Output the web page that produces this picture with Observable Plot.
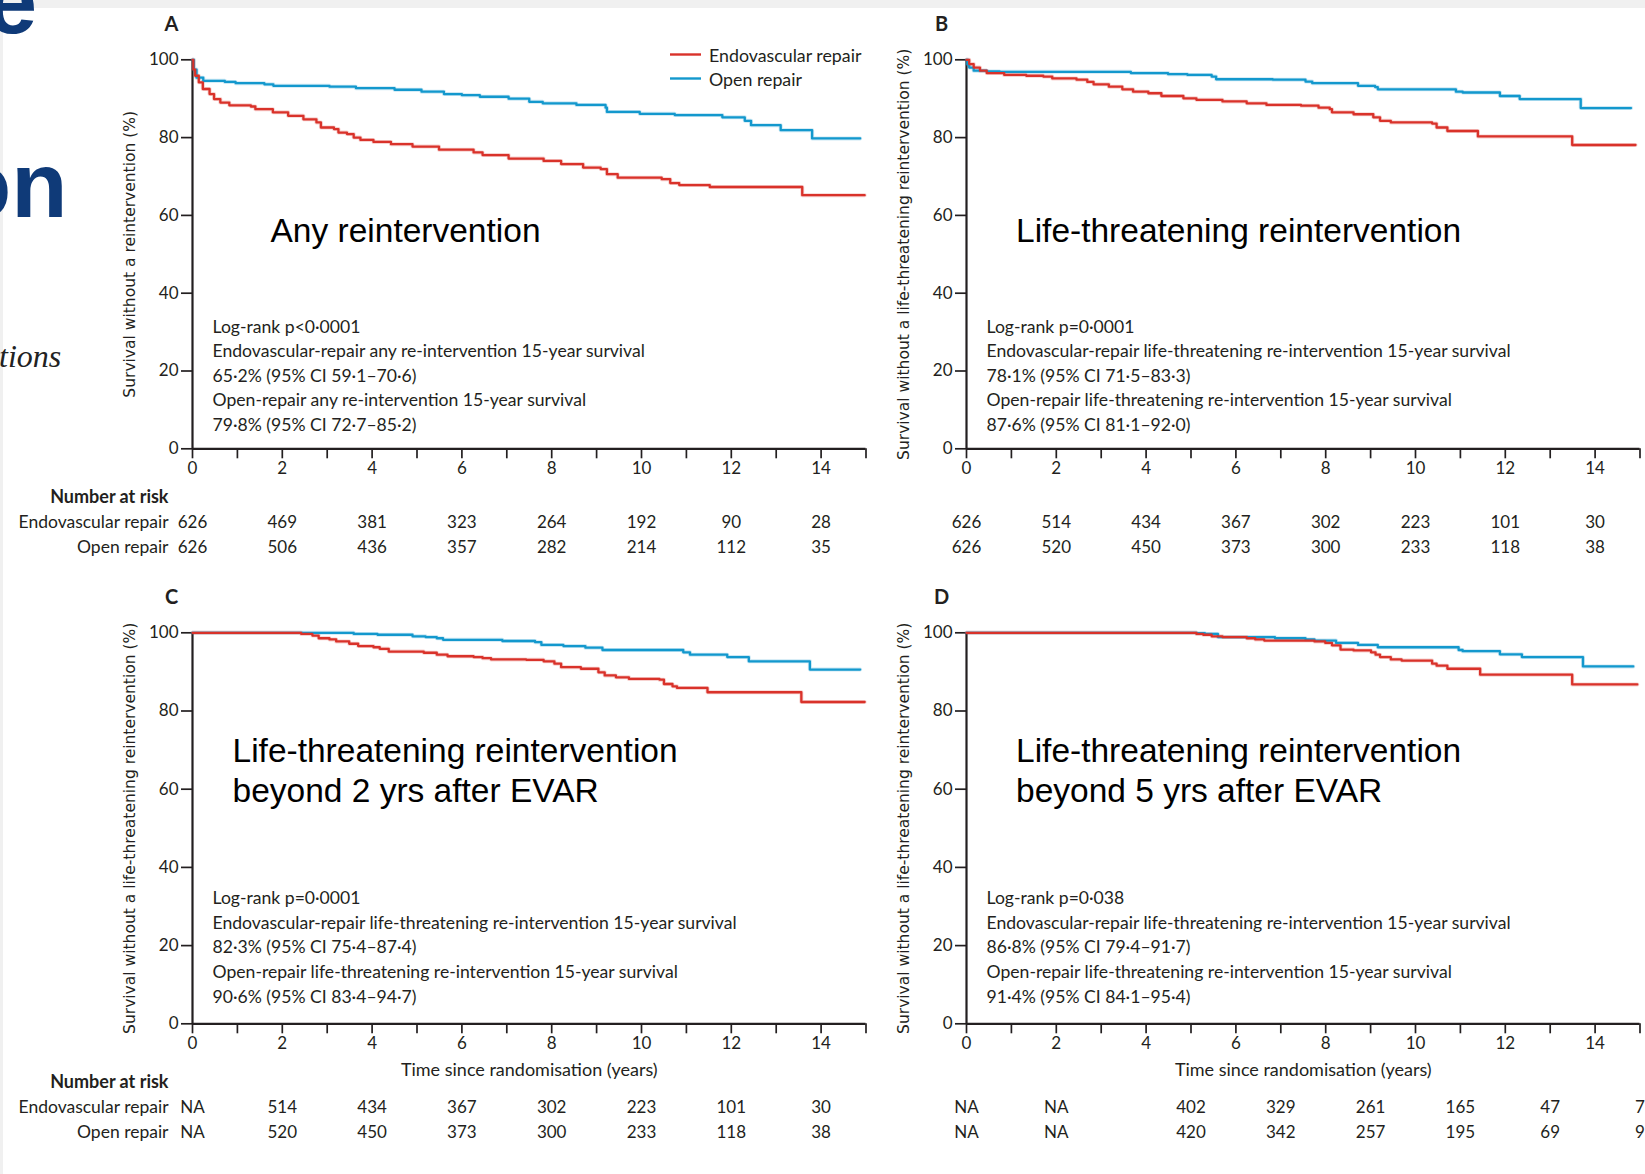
<!DOCTYPE html>
<html>
<head>
<meta charset="utf-8">
<script src="https://cdn.jsdelivr.net/npm/d3@7"></script>
<script src="https://cdn.jsdelivr.net/npm/@observablehq/plot@0.6"></script>
<style>
  html, body { margin: 0; padding: 0; background: #fff; }
  #page { position: relative; width: 1645px; height: 1174px; overflow: hidden; background: #fff; }
  #page svg.panel { position: absolute; overflow: visible; }
  #overlay { position: absolute; left: 0; top: 0; pointer-events: none; }
</style>
</head>
<body>
<div id="page"></div>
<script>
// ---- Kaplan–Meier step points: [years since randomisation, % without reintervention] ----
const aEndo = [[0,100],[0.02,97.5],[0.06,95.9],[0.14,94.2],[0.23,92.5],[0.38,91.2],[0.48,89.9],[0.62,89.0],[0.82,88.3],[1.3,88.0],[1.4,87.3],[1.79,86.5],[2.13,85.6],[2.47,84.7],[2.76,83.9],[2.86,82.6],[3.15,82.2],[3.25,81.3],[3.44,80.9],[3.59,80.0],[3.74,79.4],[4.03,78.9],[4.42,78.3],[4.9,77.7],[5.49,76.9],[6.26,76.2],[6.46,75.5],[7.04,74.6],[7.82,74.0],[8.21,73.2],[8.7,72.3],[9.09,71.9],[9.23,70.6],[9.47,69.7],[10.45,69.3],[10.64,68.3],[10.84,67.8],[11.52,67.3],[13.58,65.2],[14.97,65.2]];
const aOpen = [[0,100],[0.03,97.5],[0.09,95.4],[0.24,94.6],[0.72,94.3],[0.96,94.0],[1.6,93.7],[1.8,93.3],[3.05,93.1],[3.64,92.7],[4.5,92.3],[5.1,91.8],[5.6,91.2],[6.0,90.9],[6.4,90.5],[7.04,90.0],[7.5,89.2],[7.8,88.8],[8.55,88.4],[9.2,87.7],[9.23,86.6],[9.96,86.1],[10.74,85.8],[11.8,85.2],[12.3,84.3],[12.44,83.2],[13.1,81.9],[13.8,79.8],[14.87,79.8]];
const bEndo = [[0,100],[0.06,98.9],[0.16,98.0],[0.3,97.2],[0.45,96.6],[0.84,96.1],[1.33,95.9],[1.71,95.7],[1.91,95.2],[2.45,94.9],[2.69,94.3],[2.83,93.7],[3.17,93.1],[3.47,92.4],[3.71,91.8],[4.05,91.4],[4.34,90.7],[4.83,90.1],[5.12,89.7],[5.7,89.3],[6.24,88.8],[6.68,88.4],[7.45,88.2],[7.84,87.7],[8.09,87.3],[8.14,86.5],[8.62,86.0],[9.06,85.2],[9.21,84.3],[9.45,83.9],[10.37,83.6],[10.47,82.6],[10.71,81.7],[11.39,80.3],[13.49,78.1],[14.9,78.1]];
const bOpen = [[0,100],[0.02,98.8],[0.06,98.0],[0.16,97.2],[0.45,97.0],[0.74,96.9],[3.66,96.6],[4.49,96.3],[4.92,96.1],[5.46,95.7],[5.56,95.0],[6.82,94.9],[7.55,94.4],[7.7,94.0],[8.72,93.3],[9.1,93.0],[9.16,92.4],[10.9,91.8],[11.05,91.6],[11.88,90.7],[12.32,89.9],[13.68,87.6],[14.8,87.6]];
const cEndo = [[0,100],[2.42,99.7],[2.67,99.3],[2.81,98.6],[3.05,98.3],[3.2,97.8],[3.49,97.2],[3.69,96.6],[4.03,96.3],[4.17,95.9],[4.37,95.2],[5.15,94.9],[5.44,94.4],[5.68,94.0],[6.26,93.8],[6.46,93.5],[6.65,93.2],[7.43,93.1],[7.82,92.7],[8.06,92.1],[8.21,91.2],[8.65,90.8],[9.04,89.9],[9.18,89.1],[9.43,88.6],[9.72,88.2],[10.4,88.0],[10.5,86.9],[10.69,86.3],[10.79,85.9],[11.47,84.8],[13.56,82.3],[14.97,82.3]];
const cOpen = [[0,100],[3.59,99.7],[4.12,99.5],[4.9,99.1],[5.19,98.9],[5.44,98.6],[5.58,98.2],[6.9,97.9],[7.63,97.6],[7.77,96.9],[8.26,96.6],[8.75,96.2],[9.13,95.6],[10.93,95.0],[11.08,94.4],[11.91,93.8],[12.39,92.7],[13.75,90.6],[14.87,90.6]];
const dEndo = [[0,100],[5.12,99.7],[5.27,99.5],[5.46,99.1],[5.7,98.9],[6.24,98.6],[6.43,98.3],[6.63,98.0],[7.75,97.8],[7.99,97.4],[8.14,96.8],[8.33,95.7],[8.62,95.5],[9.01,95.0],[9.11,94.4],[9.21,93.8],[9.45,93.2],[9.69,92.9],[10.37,92.1],[10.47,91.6],[10.71,90.8],[11.44,89.3],[13.49,86.8],[14.94,86.8]];
const dOpen = [[0,100],[5.12,99.9],[5.31,99.7],[5.6,98.9],[6.87,98.6],[7.55,98.3],[7.75,98.0],[8.23,97.4],[8.72,96.9],[9.16,96.3],[10.96,95.6],[11.05,95.3],[11.88,94.5],[12.37,93.8],[13.73,91.4],[14.85,91.4]];

// ---- 15-year survival: [estimate, 95% CI low, 95% CI high] ----
const aEndoSurv15 = [65.2, 59.1, 70.6];
const aOpenSurv15 = [79.8, 72.7, 85.2];
const bEndoSurv15 = [78.1, 71.5, 83.3];
const bOpenSurv15 = [87.6, 81.1, 92.0];
const cEndoSurv15 = [82.3, 75.4, 87.4];
const cOpenSurv15 = [90.6, 83.4, 94.7];
const dEndoSurv15 = [86.8, 79.4, 91.7];
const dOpenSurv15 = [91.4, 84.1, 95.4];
const logRank = ["p<0·0001", "p=0·0001", "p=0·0001", "p=0·038"];

// ---- Number at risk ----
const riskYears  = [0, 2, 4, 6, 8, 10, 12, 14];
const riskYearsD = [0, 2, 5, 7, 9, 11, 13, 15];
const aEndoRisk = [626, 469, 381, 323, 264, 192, 90, 28];
const aOpenRisk = [626, 506, 436, 357, 282, 214, 112, 35];
const bEndoRisk = [626, 514, 434, 367, 302, 223, 101, 30];
const bOpenRisk = [626, 520, 450, 373, 300, 233, 118, 38];
const cEndoRisk = ["NA", 514, 434, 367, 302, 223, 101, 30];
const cOpenRisk = ["NA", 520, 450, 373, 300, 233, 118, 38];
const dEndoRisk = ["NA", "NA", 402, 329, 261, 165, 47, 7];
const dOpenRisk = ["NA", "NA", 420, 342, 257, 195, 69, 9];

// ---- Tick labels and text ----
const xTicks = d3.range(0, 16);
const yTicks = [0, 20, 40, 60, 80, 100];
const groups = ["Endovascular repair", "Open repair"];
const panelTitles = [
  "Any reintervention",
  "Life-threatening reintervention",
  "Life-threatening reintervention\nbeyond 2 yrs after EVAR",
  "Life-threatening reintervention\nbeyond 5 yrs after EVAR"
];
const yLabels = [
  "Survival without a reintervention (%)",
  "Survival without a life-threatening reintervention (%)",
  "Survival without a life-threatening reintervention (%)",
  "Survival without a life-threatening reintervention (%)"
];
const kinds = ["any", "life-threatening", "life-threatening", "life-threatening"];

const RED = "#d9322a";
const BLUE = "#1398cd";
const INK = "#231f20";
const BODY = "Lato, 'Open Sans', sans-serif";

const fmt = v => v.toFixed(1).replace(".", "·");
const survLine = s => `${fmt(s[0])}% (95% CI ${fmt(s[1])}–${fmt(s[2])})`;
// last level of each curve is the reported 15-year estimate
const finish = (pts, s) => pts.map((p, i) => i >= pts.length - 2 ? [p[0], s[0]] : p);

function panel(o) {
  const endo = finish(o.endo, o.endoS);
  const open = finish(o.open, o.openS);
  const statText = [
    `Log-rank ${o.p}`,
    `Endovascular-repair ${o.kind} re-intervention 15-year survival`,
    survLine(o.endoS),
    `Open-repair ${o.kind} re-intervention 15-year survival`,
    survLine(o.openS)
  ].join("\n");
  const risk = (years, counts) => years.map((t, i) => ({t, n: counts[i]}));
  const marks = [
    Plot.axisX({ticks: xTicks, tickSize: 10, tickPadding: 3, strokeWidth: 1.7,
      tickFormat: d => (d % 2 === 0 && d < 15 ? d : ""), label: null, fontSize: 17}),
    Plot.axisY({ticks: yTicks, tickSize: 11, tickPadding: 3, strokeWidth: 1.7, label: null, fontSize: 17}),
    Plot.ruleY([0], {stroke: INK, strokeWidth: 2.2}),
    Plot.ruleX([0], {stroke: INK, strokeWidth: 2.2}),
    // soft under-stroke, then the curves
    Plot.line(open, {x: d => d[0], y: d => d[1], curve: "step-after", stroke: BLUE, strokeWidth: 4, strokeOpacity: 0.22}),
    Plot.line(endo, {x: d => d[0], y: d => d[1], curve: "step-after", stroke: RED, strokeWidth: 4, strokeOpacity: 0.22}),
    Plot.line(open, {x: d => d[0], y: d => d[1], curve: "step-after", stroke: BLUE, strokeWidth: 2.3}),
    Plot.line(endo, {x: d => d[0], y: d => d[1], curve: "step-after", stroke: RED, strokeWidth: 2.3}),
    Plot.text([o.title], {frameAnchor: "left", x: 0, y: o.titleY, dx: o.titleDx, textAnchor: "start",
      fontFamily: "'Liberation Sans', Arial, sans-serif", fontSize: 33.5, lineHeight: 1.19, fill: "#000"}),
    Plot.text([statText], {x: 0, y: o.statY, dx: 20, textAnchor: "start", fontSize: 17.6,
      lineHeight: 1.40, fill: INK}),
    Plot.text([o.yLabel], {frameAnchor: "left", rotate: -90, dx: -62, textAnchor: "middle",
      fontFamily: "'DejaVu Sans', sans-serif", fontSize: 15.5, fill: INK}),
    Plot.text([o.letter], {frameAnchor: "top-left", dx: o.letterDx, dy: -35.5, textAnchor: "middle", lineAnchor: "middle",
      fontSize: 20, fontWeight: 700, fill: INK}),
    Plot.text(risk(o.riskX, o.endoRisk), {x: "t", text: "n", frameAnchor: "bottom", dy: o.rowDy, fontSize: 17, fill: INK}),
    Plot.text(risk(o.riskX, o.openRisk), {x: "t", text: "n", frameAnchor: "bottom", dy: o.rowDy + 25, fontSize: 17, fill: INK})
  ];
  if (o.rowLabels) {
    marks.push(
      Plot.text(["Number at risk"], {frameAnchor: "bottom-left", dx: -24, dy: o.rowDy - 25, textAnchor: "end",
        fontSize: 18, fontWeight: 700, fill: INK}),
      Plot.text([groups[0]], {frameAnchor: "bottom-left", dx: -24, dy: o.rowDy, textAnchor: "end", fontSize: 17.5, fill: INK}),
      Plot.text([groups[1]], {frameAnchor: "bottom-left", dx: -24, dy: o.rowDy + 25, textAnchor: "end", fontSize: 17.5, fill: INK})
    );
  }
  if (o.xLabel) {
    marks.push(Plot.text(["Time since randomisation (years)"], {frameAnchor: "bottom", dy: 52.5, fontSize: 18, fill: INK}));
  }
  const svg = Plot.plot({
    width: o.width, height: o.height,
    marginLeft: o.ml, marginRight: o.width - o.ml - 673.5,
    marginTop: o.mt, marginBottom: o.height - o.mt - o.ph,
    x: {domain: [0, 15]},
    y: {domain: [0, 100]},
    style: {fontFamily: BODY, fontSize: "17px", color: INK, background: "transparent", overflow: "visible"},
    marks
  });
  svg.classList.add("panel");
  svg.style.left = o.left + "px";
  svg.style.top = o.top + "px";
  return svg;
}

const page = document.getElementById("page");

// light frame strips along the top and left edges
const strip = (css) => { const d = document.createElement("div"); d.style.cssText = "position:absolute;background:#f0f0f0;" + css; page.appendChild(d); };
strip("left:0;top:0;width:1645px;height:8px;");
strip("left:0;top:0;width:3px;height:1174px;");

const rowTop = {top: 0, height: 570, mt: 59.3, ph: 389, rowDy: 78.7};
const rowBottom = {top: 570, height: 604, mt: 62.3, ph: 391, rowDy: 88.7};
const colLeft = {left: 0, width: 880, ml: 192, letterDx: -21};
const colRight = {left: 860, width: 785, ml: 106, letterDx: -25};

page.appendChild(panel({...rowTop, ...colLeft, letter: "A", endo: aEndo, open: aOpen, endoS: aEndoSurv15, openS: aOpenSurv15,
  p: logRank[0], kind: kinds[0], title: panelTitles[0], titleDx: 78, titleY: 56.5, statY: 19.25, yLabel: yLabels[0],
  riskX: riskYears, endoRisk: aEndoRisk, openRisk: aOpenRisk, rowLabels: true}));
page.appendChild(panel({...rowTop, ...colRight, letter: "B", endo: bEndo, open: bOpen, endoS: bEndoSurv15, openS: bOpenSurv15,
  p: logRank[1], kind: kinds[1], title: panelTitles[1], titleDx: 49.5, titleY: 56.5, statY: 19.25, yLabel: yLabels[1],
  riskX: riskYears, endoRisk: bEndoRisk, openRisk: bOpenRisk}));
page.appendChild(panel({...rowBottom, ...colLeft, letter: "C", endo: cEndo, open: cOpen, endoS: cEndoSurv15, openS: cOpenSurv15,
  p: logRank[2], kind: kinds[2], title: panelTitles[2], titleDx: 40, titleY: 65, statY: 20, yLabel: yLabels[2],
  riskX: riskYears, endoRisk: cEndoRisk, openRisk: cOpenRisk, rowLabels: true, xLabel: true}));
page.appendChild(panel({...rowBottom, ...colRight, letter: "D", endo: dEndo, open: dOpen, endoS: dEndoSurv15, openS: dOpenSurv15,
  p: logRank[3], kind: kinds[3], title: panelTitles[3], titleDx: 49.5, titleY: 65, statY: 20, yLabel: yLabels[3],
  riskX: riskYearsD, endoRisk: dEndoRisk, openRisk: dOpenRisk, xLabel: true}));

// legend and the slide heading fragments at the left edge
const NS = "http://www.w3.org/2000/svg";
const overlay = document.createElementNS(NS, "svg");
overlay.setAttribute("id", "overlay");
overlay.setAttribute("width", 1645);
overlay.setAttribute("height", 1174);
const add = (tag, attrs, text) => {
  const el = document.createElementNS(NS, tag);
  for (const k in attrs) el.setAttribute(k, attrs[k]);
  if (text != null) el.textContent = text;
  overlay.appendChild(el);
  return el;
};
[[RED, groups[0], 54.5], [BLUE, groups[1], 78.5]].forEach(([c, label, y]) => {
  add("line", {x1: 670, x2: 701, y1: y, y2: y, stroke: c, "stroke-width": 2.4});
  add("text", {x: 709, y: y, "dominant-baseline": "central", "font-family": BODY, "font-size": 17.8, fill: INK}, label);
});
const heading = {fill: "#0f3a78", "font-family": "'Liberation Sans', Arial, sans-serif", "font-weight": 700, "font-size": 92};
add("text", {...heading, x: -14, y: 33}, "e");
add("text", {...heading, x: -45, y: 217}, "on");
add("text", {x: -1, y: 367, fill: "#222", "font-family": "'Liberation Serif', serif", "font-style": "italic", "font-size": 32}, "tions");
page.appendChild(overlay);
</script>
</body>
</html>
